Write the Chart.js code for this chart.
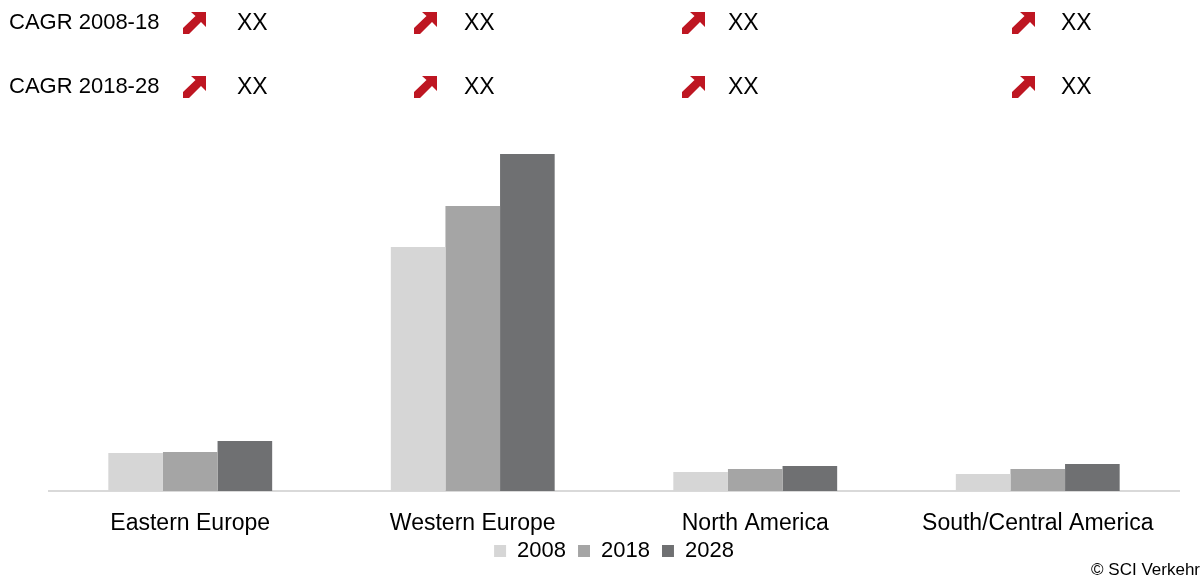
<!DOCTYPE html>
<html><head><meta charset="utf-8">
<script src="https://cdn.jsdelivr.net/npm/chart.js@4/dist/chart.umd.min.js"></script>
<style>
html,body{margin:0;padding:0;background:#fff;}
body{width:1203px;height:581px;position:relative;overflow:hidden;font-family:"Liberation Sans",Arial,Helvetica,sans-serif;color:#000;}
#wrap{position:absolute;left:0;top:0;width:1203px;height:581px;}
.lbl{position:absolute;font-size:22px;line-height:1;white-space:nowrap;}
.xx{position:absolute;font-size:23px;line-height:1;white-space:nowrap;}
.arr{position:absolute;width:24px;height:22px;}
.copy{position:absolute;right:3px;top:561px;font-size:17px;line-height:1;white-space:nowrap;}
</style></head>
<body>
<div id="wrap"><canvas id="c" width="1203" height="581"></canvas></div>
<div id="hdr"></div>
<div class="copy">© SCI Verkehr</div>
<script>
const categories = ["Eastern Europe", "Western Europe", "North America", "South/Central America"];
const seriesNames = ["2008", "2018", "2028"];
const values2008 = [38, 244, 19, 17];
const values2018 = [39, 285, 22, 22];
const values2028 = [50, 337, 25, 27];
const cagrRows = ["CAGR 2008-18", "CAGR 2018-28"];
const cagrValues = [["XX", "XX", "XX", "XX"], ["XX", "XX", "XX", "XX"]];

const colors = ["#d6d6d6", "#a5a5a5", "#6f7072"];

// CAGR header rows
const hdr = document.getElementById('hdr');
const rowY = [11, 75];
const arrowX = [182, 413, 681, 1011];
const xxX = [237, 464, 728, 1061];
const arrowSvg = '<svg class="arr" viewBox="0 0 24 22" xmlns="http://www.w3.org/2000/svg"><polygon points="9,0 24,0 24,15 19,10 7,22 1,22 1,16 13.5,4" fill="#be1622"/></svg>';
cagrRows.forEach((r, i) => {
  const l = document.createElement('div');
  l.className = 'lbl'; l.style.left = '9px'; l.style.top = (rowY[i]) + 'px'; l.textContent = r;
  hdr.appendChild(l);
  cagrValues[i].forEach((v, j) => {
    const a = document.createElement('div');
    a.innerHTML = arrowSvg;
    const s = a.firstChild; s.style.left = arrowX[j] + 'px'; s.style.top = (rowY[i] + 1) + 'px';
    hdr.appendChild(s);
    const t = document.createElement('div');
    t.className = 'xx'; t.style.left = xxX[j] + 'px'; t.style.top = (rowY[i] + 0) + 'px'; t.textContent = v;
    hdr.appendChild(t);
  });
});

const noLabelClip = {
  id: 'noLabelClip',
  beforeDraw(chart) {
    const x = chart.scales.x;
    if (x) x._computeLabelArea = function () { return undefined; };
  }
};

Chart.defaults.font.family = '"Liberation Sans", Arial, Helvetica, sans-serif';
Chart.defaults.color = '#000';
new Chart(document.getElementById('c'), {
  type: 'bar',
  plugins: [noLabelClip],
  data: {
    labels: categories,
    datasets: [values2008, values2018, values2028].map((d, i) => ({
      label: seriesNames[i], data: d, backgroundColor: colors[i],
      borderWidth: 0, categoryPercentage: 0.58, barPercentage: 1.0
    }))
  },
  options: {
    responsive: false, animation: false,
    layout: { padding: { left: 49, right: 24, top: 141, bottom: 9 } },
    plugins: {
      legend: {
        position: 'bottom',
        labels: { boxWidth: 12, boxHeight: 12, font: { size: 22 }, padding: 12, color: '#000' }
      },
      tooltip: { enabled: false }
    },
    scales: {
      x: {
        grid: { display: false, drawTicks: false },
        border: { display: true, color: '#d9d9d9', width: 2 },
        ticks: { font: { size: 23 }, padding: 19, color: '#000', maxRotation: 0 },
        afterFit: (s) => { s.height = 37; }
      },
      y: { display: false, min: 0, max: 350 }
    }
  }
});
</script>
</body></html>
